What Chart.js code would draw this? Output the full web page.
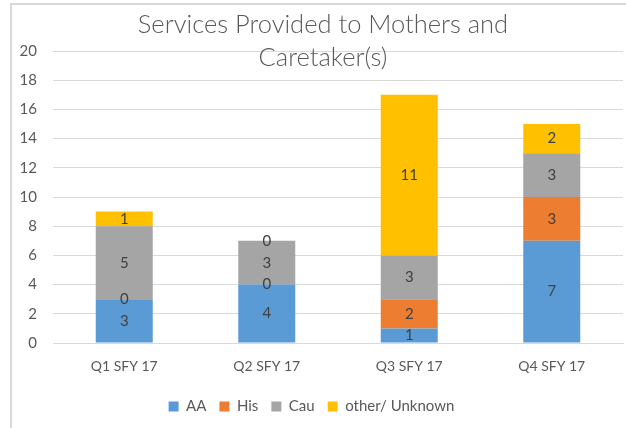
<!DOCTYPE html>
<html>
<head>
<meta charset="utf-8">
<script src="https://cdn.jsdelivr.net/npm/chart.js@4/dist/chart.umd.min.js"></script>
<style>
  html, body { margin: 0; padding: 0; background: #fff; }
  #wrap { position: relative; width: 626px; height: 428px; }
</style>
</head>
<body>
<div id="wrap"><canvas id="myChart" width="626" height="428"></canvas></div>
<script>
// values
const quarters = ['Q1 SFY 17', 'Q2 SFY 17', 'Q3 SFY 17', 'Q4 SFY 17'];
const aa = [3, 4, 1, 7];
const his = [0, 0, 2, 3];
const cau = [5, 3, 3, 3];
const other = [1, 0, 11, 2];
const titleLines = ['Services Provided to Mothers and', 'Caretaker(s)'];

const textGray = '#595959';
const gridGray = '#d9d9d9';

// frame (top + left edges visible) and the overlaid two-line title
const framePlugin = {
    id: 'frame',
    beforeDraw(chart) {
        const c = chart.ctx;
        c.save();
        c.fillStyle = '#fff';
        c.fillRect(0, 0, chart.width, chart.height);
        c.strokeStyle = gridGray;
        c.lineWidth = 2;
        c.beginPath();
        c.moveTo(11, 428);
        c.lineTo(11, 4);
        c.lineTo(626, 4);
        c.stroke();
        c.restore();
    },
    afterDraw(chart) {
        const c = chart.ctx;
        c.save();
        c.fillStyle = textGray;
        c.font = '300 25.5px Lato';
        c.textAlign = 'center';
        c.textBaseline = 'middle';
        c.fillText(titleLines[0], 323, 25);
        c.fillText(titleLines[1], 323, 58);
        c.restore();
    }
};

// value labels in the middle of each segment
const valueLabels = {
    id: 'valueLabels',
    afterDatasetsDraw(chart) {
        const c = chart.ctx;
        c.save();
        c.fillStyle = '#404040';
        c.font = '15px Lato';
        c.textAlign = 'center';
        c.textBaseline = 'middle';
        chart.data.datasets.forEach((ds, i) => {
            chart.getDatasetMeta(i).data.forEach((bar, j) => {
                const p = bar.getCenterPoint();
                c.fillText(String(ds.data[j]), p.x, p.y);
            });
        });
        c.restore();
    }
};

const ctx = document.getElementById('myChart');

const myChart = new Chart(ctx, {
    type: 'bar',
    data: {
        labels: quarters,
        datasets: [
            { label: 'AA', data: aa, backgroundColor: '#5b9bd5' },
            { label: 'His', data: his, backgroundColor: '#ed7d31' },
            { label: 'Cau', data: cau, backgroundColor: '#a5a5a5' },
            { label: 'other/ Unknown', data: other, backgroundColor: '#ffc000' }
        ]
    },
    options: {
        responsive: false,
        animation: false,
        devicePixelRatio: 1,
        layout: { padding: { top: 51, right: 3, bottom: 4, left: 0 } },
        datasets: {
            bar: { categoryPercentage: 1, barPercentage: 0.4, borderWidth: 0 }
        },
        scales: {
            x: {
                stacked: true,
                grid: { display: false, drawTicks: false },
                border: { color: gridGray, width: 1 },
                ticks: { color: textGray, font: { family: 'Lato', size: 14 }, padding: 15 },
                afterFit(axis) { axis.height = 43; }
            },
            y: {
                stacked: true,
                min: 0,
                max: 20,
                grid: { color: gridGray, drawTicks: false },
                border: { display: false },
                ticks: { stepSize: 2, color: textGray, font: { family: 'Lato', size: 15 }, padding: 16 },
                afterFit(axis) { axis.width = 53; }
            }
        },
        plugins: {
            legend: {
                position: 'bottom',
                labels: {
                    boxWidth: 10,
                    boxHeight: 10,
                    padding: 13,
                    color: textGray,
                    font: { family: 'Lato', size: 15 }
                }
            },
            tooltip: { enabled: false }
        }
    },
    plugins: [framePlugin, valueLabels]
});
</script>
</body>
</html>
